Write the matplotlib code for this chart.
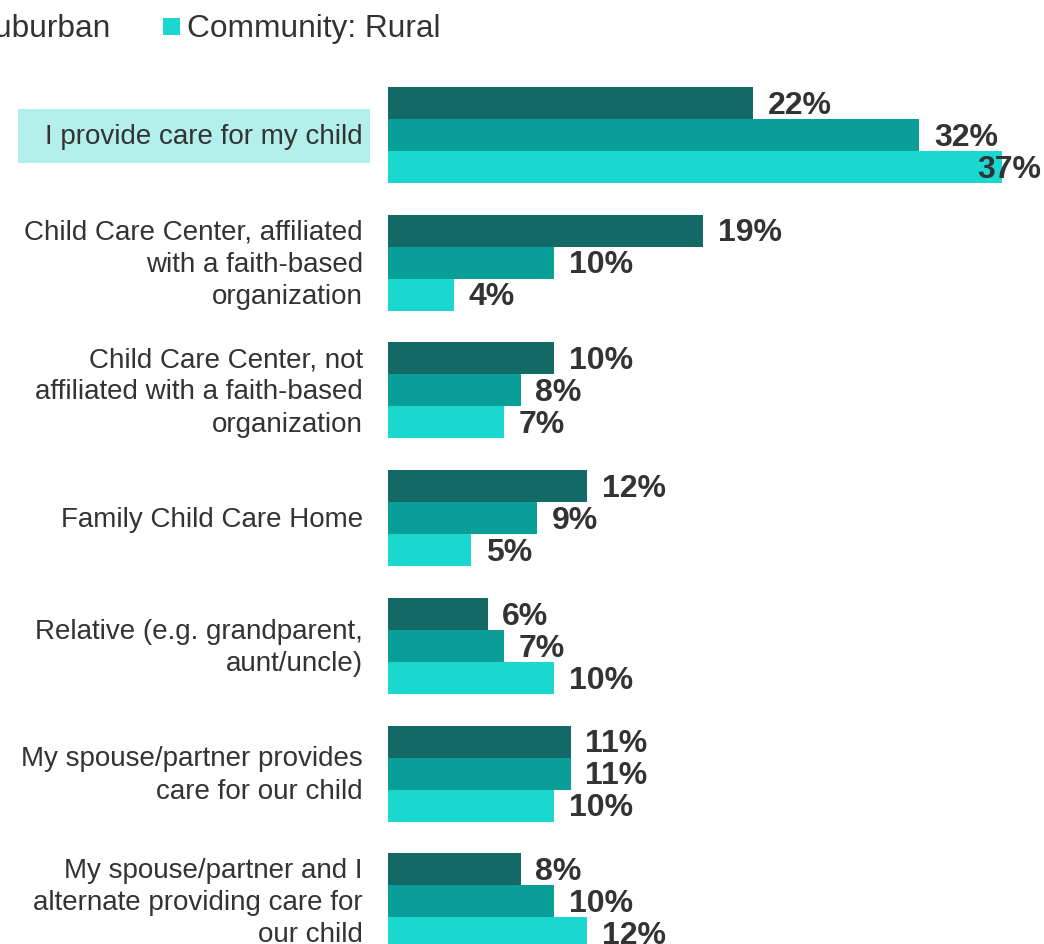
import matplotlib
matplotlib.use('Agg')
import matplotlib.pyplot as plt
from matplotlib.patches import Rectangle
import matplotlib.transforms as mtransforms

plt.rcParams['font.family'] = ['Liberation Sans', 'DejaVu Sans']

categories = [
    "I provide care for my child",
    "Child Care Center, affiliated\nwith a faith-based\norganization",
    "Child Care Center, not\naffiliated with a faith-based\norganization",
    "Family Child Care Home",
    "Relative (e.g. grandparent,\naunt/uncle)",
    "My spouse/partner provides\ncare for our child",
    "My spouse/partner and I\nalternate providing care for\nour child",
]
series_names = ["Community: Urban", "Community: Suburban", "Community: Rural"]
urban = [22, 19, 10, 12, 6, 11, 8]
suburban = [32, 10, 8, 9, 7, 11, 10]
rural = [37, 4, 7, 5, 10, 10, 12]

colors = ["#136966", "#0a9e99", "#1ad8cf"]
text_color = "#333333"

W, H = 1044, 944
fig = plt.figure(figsize=(W / 100, H / 100), dpi=100)
ax = fig.add_axes([388 / W, 0, 656 / W, 1])
px_per_pct = 16.6
ax.set_xlim(0, 656 / px_per_pct)
group_px = 127.7
first_center = 135
ax.set_ylim((H - first_center) / group_px, -first_center / group_px)
bar_h = 32 / group_px

fig.canvas.draw()
renderer = fig.canvas.get_renderer()

series = [urban, suburban, rural]
for gi in range(len(categories)):
    for si, vals in enumerate(series):
        y = gi + (si - 1) * bar_h
        ax.barh(y, vals[gi], height=bar_h, color=colors[si], edgecolor='none')
        t = ax.annotate(f"{vals[gi]}%", (vals[gi], y), xytext=(10.5, -2),
                        textcoords='offset points', va='center', ha='left',
                        fontsize=23, fontweight='bold', color=text_color,
                        annotation_clip=False, zorder=5)
        bb = t.get_window_extent(renderer)
        if bb.x1 > W - 3:
            # keep the label inside the picture, overlapping the bar end
            shift_pt = (bb.x1 - (W - 3)) * 72 / 100
            t.xyann = (10.5 - shift_pt, -2)
ax.axis('off')

label_trans = mtransforms.blended_transform_factory(ax.transAxes, ax.transData) + \
    mtransforms.ScaledTranslation(0, -1.5 / 72, fig.dpi_scale_trans)
for gi, lab in enumerate(categories):
    ax.text(-25 / 656, gi, lab, transform=label_trans, ha='right', va='center',
            multialignment='right', fontsize=20, color=text_color,
            linespacing=1.31, zorder=5)

# highlight box behind first category label
ax.add_patch(Rectangle((18 / W, 1 - 163 / H), 352 / W, 54 / H,
                       transform=fig.transFigure, facecolor='#b3f0ec',
                       edgecolor='none', zorder=1, clip_on=False))

# legend (partially cropped at left)
leg_y = 1 - 29 / H
sq = 17
fs_leg = 22.8
fig.text(187 / W, leg_y, series_names[2], ha='left', va='center',
         fontsize=fs_leg, color=text_color)
fig.patches.append(Rectangle((163 / W, 1 - 35 / H), sq / W, sq / H,
                             transform=fig.transFigure, facecolor=colors[2],
                             edgecolor='none'))
t2 = fig.text(110 / W, leg_y, series_names[1], ha='right', va='center',
              fontsize=fs_leg, color=text_color)
bb = t2.get_window_extent(renderer)
x0 = bb.x0
fig.patches.append(Rectangle(((x0 - 7 - sq) / W, 1 - 35 / H), sq / W, sq / H,
                             transform=fig.transFigure, facecolor=colors[1],
                             edgecolor='none'))
x_end_urban = x0 - 7 - sq - 46
t3 = fig.text(x_end_urban / W, leg_y, series_names[0], ha='right', va='center',
              fontsize=fs_leg, color=text_color)
bb3 = t3.get_window_extent(renderer)
fig.patches.append(Rectangle(((bb3.x0 - 7 - sq) / W, 1 - 35 / H), sq / W, sq / H,
                             transform=fig.transFigure, facecolor=colors[0],
                             edgecolor='none'))

fig.savefig('out.png', dpi=100)
